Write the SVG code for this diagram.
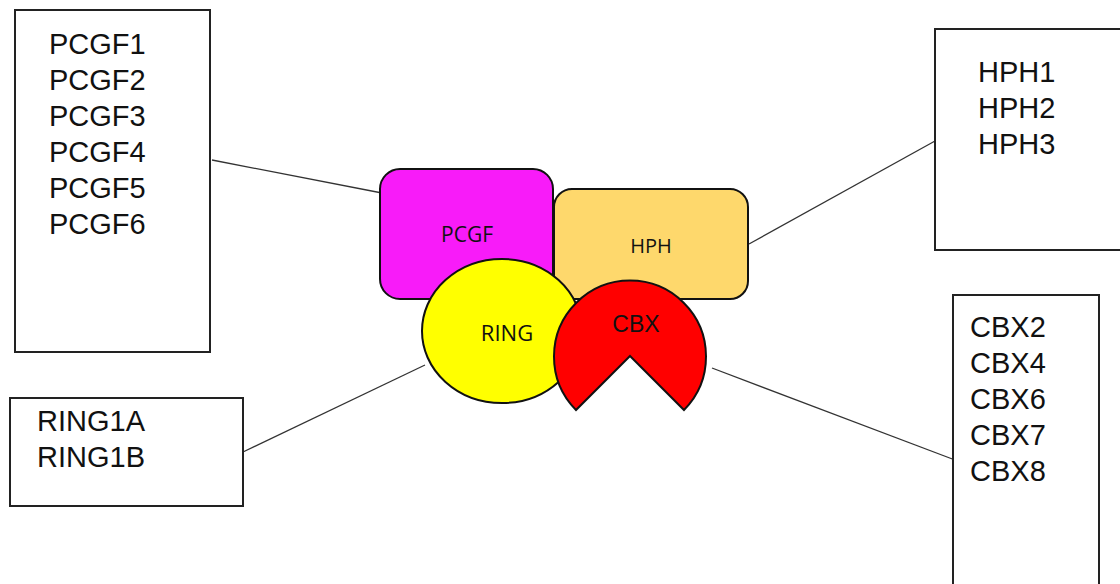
<svg xmlns="http://www.w3.org/2000/svg" width="1120" height="584" viewBox="0 0 1120 584">
<style>
.box{fill:#fff;stroke:#222;stroke-width:2}
.lt{font-family:"Liberation Sans",Arial,sans-serif;font-size:29px;fill:#111}
.shape{stroke:#111;stroke-width:2}
.st{font-family:"Open Sans","Liberation Sans",sans-serif;fill:#111;text-anchor:middle}
.conn line{stroke:#333;stroke-width:1.3}
</style>
<rect width="1120" height="584" fill="#fff"/>
<g class="conn" id="connectors">
<line x1="212" y1="160" x2="382" y2="193"/>
<line x1="749" y1="244" x2="935" y2="141"/>
<line x1="243" y1="452" x2="425" y2="365"/>
<line x1="712" y1="368" x2="955" y2="460"/>
</g>
<g id="pcgf-list">
<rect class="box" x="15" y="10" width="195" height="342"/>
<text class="lt" x="49" y="54">PCGF1</text>
<text class="lt" x="49" y="90">PCGF2</text>
<text class="lt" x="49" y="126">PCGF3</text>
<text class="lt" x="49" y="162">PCGF4</text>
<text class="lt" x="49" y="198">PCGF5</text>
<text class="lt" x="49" y="234">PCGF6</text>
</g>
<g id="ring-list">
<rect class="box" x="10" y="398" width="233" height="108"/>
<text class="lt" x="37" y="431">RING1A</text>
<text class="lt" x="37" y="467">RING1B</text>
</g>
<g id="hph-list">
<rect class="box" x="935" y="29" width="200" height="221"/>
<text class="lt" x="978" y="82">HPH1</text>
<text class="lt" x="978" y="118">HPH2</text>
<text class="lt" x="978" y="154">HPH3</text>
</g>
<g id="cbx-list">
<rect class="box" x="953" y="295" width="146" height="310"/>
<text class="lt" x="970" y="337">CBX2</text>
<text class="lt" x="970" y="373">CBX4</text>
<text class="lt" x="970" y="409">CBX6</text>
<text class="lt" x="970" y="445">CBX7</text>
<text class="lt" x="970" y="481">CBX8</text>
</g>
<g id="pcgf">
<rect class="shape" x="380" y="169" width="173" height="130" rx="20" fill="#F81BF9"/>
<text class="st" x="467" y="242" font-size="21">PCGF</text>
</g>
<g id="hph">
<rect class="shape" x="554" y="189" width="194" height="110" rx="18" fill="#FED86C"/>
<text class="st" x="651" y="253" font-size="20">HPH</text>
</g>
<g id="ring">
<ellipse class="shape" cx="502" cy="331" rx="80" ry="72" fill="#FFFF00"/>
<text class="st" x="507" y="341" font-size="22">RING</text>
</g>
<g id="cbx">
<path class="shape" d="M630,356 L684,410 A76,76 0 1,0 576,410 Z" fill="#FF0000"/>
<text x="636" y="332" font-family="Liberation Sans,Arial,sans-serif" font-size="23" fill="#111" text-anchor="middle">CBX</text>
</g>
</svg>
